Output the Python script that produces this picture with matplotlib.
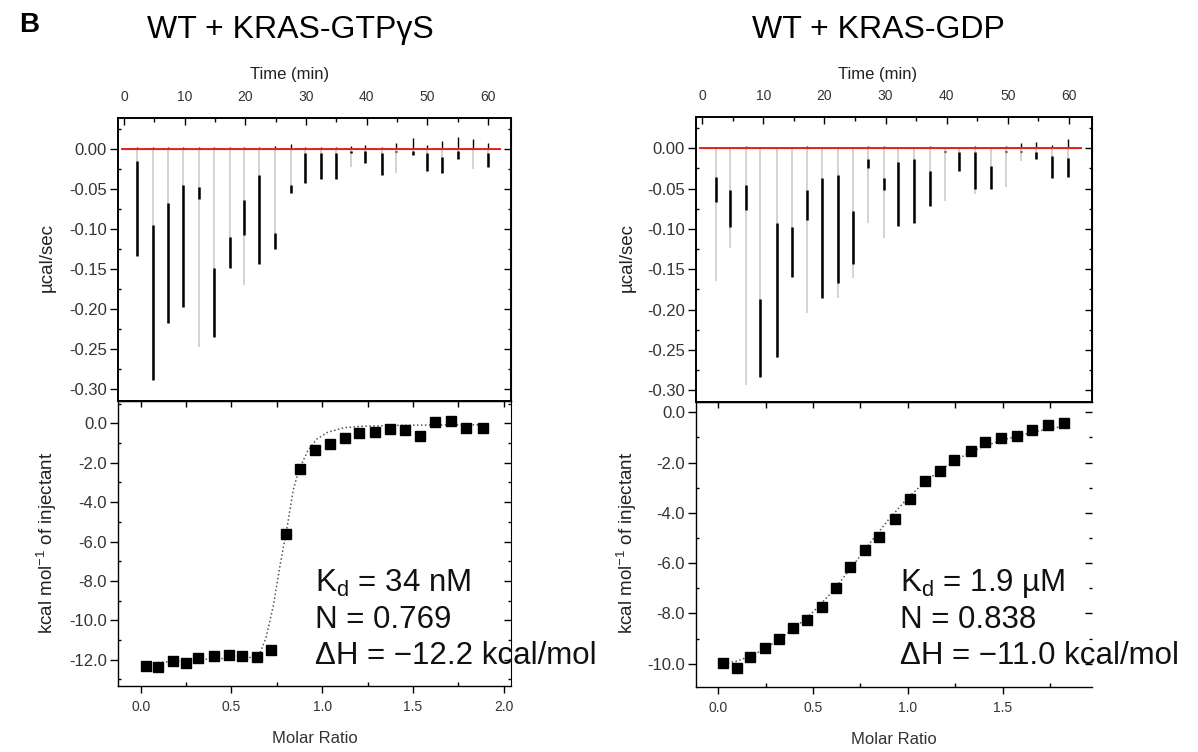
import matplotlib.pyplot as plt
from matplotlib.ticker import MultipleLocator, FormatStrFormatter

plt.rcParams['font.family'] = ['Liberation Sans', 'DejaVu Sans']
plt.rcParams['mathtext.fontset'] = 'custom'
plt.rcParams['mathtext.rm'] = 'Liberation Sans'
plt.rcParams['mathtext.it'] = 'Liberation Sans:italic'
plt.rcParams['axes.unicode_minus'] = False

# raw thermogram, KRAS-GTPyS (injection time, peak depth, dark part of the spike)
gtp_t = [2.2, 4.8, 7.3, 9.8, 12.3, 14.8, 17.5, 19.8, 22.3, 24.9, 27.5, 29.8,
         32.4, 34.9, 37.5, 39.8, 42.5, 44.9, 47.6, 49.9, 52.5, 55.1, 57.6, 60.0]
gtp_peak = [-0.134, -0.288, -0.217, -0.197, -0.247, -0.235, -0.149, -0.170,
            -0.143, -0.125, -0.055, -0.043, -0.037, -0.037, -0.022, -0.017,
            -0.032, -0.030, -0.008, -0.028, -0.030, -0.012, -0.025, -0.022]
gtp_dark_top = [-0.015, -0.095, -0.067, -0.045, -0.048, -0.149, -0.110, -0.063,
                -0.032, -0.105, -0.045, -0.005, -0.005, -0.005, -0.003, -0.003,
                -0.005, -0.003, -0.002, -0.005, -0.010, -0.003, -0.002, -0.005]
gtp_dark_bot = [-0.134, -0.288, -0.217, -0.197, -0.062, -0.235, -0.149, -0.107,
                -0.143, -0.125, -0.055, -0.043, -0.037, -0.037, -0.005, -0.017,
                -0.032, -0.004, -0.008, -0.028, -0.030, -0.012, -0.003, -0.022]
gtp_up = [0.002, 0.003, 0.003, 0.002, 0.003, 0.002, 0.003, 0.002, 0.002, 0.004,
          0.006, 0.003, 0.002, 0.003, 0.004, 0.005, 0.002, 0.008, 0.014, 0.005,
          0.010, 0.015, 0.012, 0.008]

# raw thermogram, KRAS-GDP
gdp_t = [2.2, 4.6, 7.1, 9.5, 12.2, 14.7, 17.1, 19.6, 22.2, 24.7, 27.2, 29.8,
         32.1, 34.7, 37.2, 39.7, 42.1, 44.7, 47.2, 49.7, 52.2, 54.6, 57.2, 59.8]
gdp_peak = [-0.165, -0.124, -0.293, -0.283, -0.260, -0.159, -0.204, -0.185,
            -0.185, -0.161, -0.093, -0.111, -0.096, -0.093, -0.072, -0.065,
            -0.028, -0.057, -0.050, -0.048, -0.016, -0.013, -0.037, -0.035]
gdp_dark_top = [-0.035, -0.052, -0.046, -0.187, -0.093, -0.098, -0.052, -0.037,
                -0.033, -0.078, -0.013, -0.037, -0.017, -0.013, -0.028, -0.003,
                -0.004, -0.004, -0.022, -0.003, -0.003, -0.004, -0.010, -0.012]
gdp_dark_bot = [-0.067, -0.098, -0.076, -0.283, -0.259, -0.159, -0.089, -0.185,
                -0.167, -0.143, -0.024, -0.052, -0.096, -0.093, -0.072, -0.005,
                -0.028, -0.050, -0.050, -0.005, -0.005, -0.013, -0.037, -0.035]
gdp_up = [0.002, 0.002, 0.003, 0.002, 0.002, 0.002, 0.003, 0.002, 0.002, 0.002,
          0.003, 0.003, 0.002, 0.002, 0.003, 0.002, 0.002, 0.003, 0.002, 0.003,
          0.006, 0.008, 0.004, 0.012]

# integrated heats
gtp_ratio = [0.028, 0.097, 0.178, 0.248, 0.317, 0.404, 0.486, 0.560, 0.642, 0.716,
             0.798, 0.877, 0.958, 1.042, 1.125, 1.205, 1.290, 1.372, 1.455, 1.538,
             1.624, 1.710, 1.795, 1.886]
gtp_heat = [-12.32, -12.37, -12.07, -12.17, -11.92, -11.81, -11.78, -11.81, -11.86,
            -11.53, -5.63, -2.34, -1.37, -1.07, -0.76, -0.51, -0.42, -0.29, -0.31,
            -0.64, 0.07, 0.12, -0.22, -0.22]
gtp_fit_x = [0.03, 0.30, 0.60, 0.66, 0.69, 0.73, 0.77, 0.81, 0.84, 0.87, 0.92, 0.97,
             1.03, 1.12, 1.21, 1.40, 1.60, 1.90]
gtp_fit_y = [-12.2, -12.0, -11.9, -11.6, -10.9, -9.3, -7.1, -5.1, -3.4, -2.4, -1.4,
             -0.8, -0.45, -0.22, -0.15, -0.10, -0.08, -0.07]

gdp_ratio = [0.028, 0.099, 0.170, 0.245, 0.320, 0.394, 0.469, 0.548, 0.622, 0.697,
             0.772, 0.850, 0.930, 1.010, 1.090, 1.170, 1.245, 1.330, 1.407, 1.490,
             1.572, 1.654, 1.740, 1.822]
gdp_heat = [-9.97, -10.17, -9.73, -9.36, -9.00, -8.58, -8.25, -7.75, -6.99, -6.15,
            -5.49, -4.96, -4.26, -3.43, -2.73, -2.35, -1.91, -1.55, -1.18, -1.02,
            -0.94, -0.72, -0.52, -0.41]
gdp_fit_x = [0.03, 0.10, 0.20, 0.30, 0.40, 0.50, 0.60, 0.70, 0.80, 0.90, 1.00, 1.10,
             1.20, 1.30, 1.40, 1.50, 1.60, 1.70, 1.82]
gdp_fit_y = [-10.0, -9.9, -9.6, -9.15, -8.6, -7.95, -7.15, -6.2, -5.2, -4.25, -3.4,
             -2.7, -2.15, -1.7, -1.35, -1.1, -0.9, -0.72, -0.55]

titles = ['WT + KRAS-GTP\u03b3S', 'WT + KRAS-GDP']
fit_text = [['K$_\\mathrm{d}$ = 34 nM', 'N = 0.769', '\u0394H = \u221212.2 kcal/mol'],
            ['K$_\\mathrm{d}$ = 1.9 \u00b5M', 'N = 0.838', '\u0394H = \u221211.0 kcal/mol']]

W, H = 1198, 752
fig = plt.figure(figsize=(W / 100, H / 100), dpi=100)


def px(x, y):
    return x / W, 1 - y / H


def style_y(ax, major, minor, fmt, right_spine=True):
    ax.yaxis.set_major_locator(MultipleLocator(major))
    ax.yaxis.set_minor_locator(MultipleLocator(minor))
    ax.yaxis.set_major_formatter(FormatStrFormatter(fmt))
    ax.tick_params(axis='y', which='major', direction='out', length=6, width=1,
                   labelsize=12, labelcolor='#333333', pad=2)
    ax.tick_params(axis='y', which='minor', direction='in', length=2.5, width=1)
    sec = ax.secondary_yaxis('right')
    sec.yaxis.set_major_locator(MultipleLocator(major))
    sec.yaxis.set_minor_locator(MultipleLocator(minor))
    sec.tick_params(which='both', direction='in', labelright=False)
    sec.tick_params(which='major', length=5, width=1)
    sec.tick_params(which='minor', length=2.5, width=1)
    sec.spines['right'].set_visible(right_spine)
    return sec


def raw_panel(rect, t, peak, dtop, dbot, up):
    ax = fig.add_axes(rect)
    ax.set_xlim(-1, 63.8)
    ax.set_ylim(-0.3146, 0.0388)
    ax.vlines(t, [0] * len(t), peak, color='#cccccc', lw=1.2)
    ax.vlines(t, dtop, dbot, color='black', lw=1.8)
    ax.vlines(t, [0] * len(t), up, color='black', lw=1.0)
    ax.plot([-0.3, 62], [0, 0], color='black', lw=0.8)
    ax.plot([-0.3, 62], [0, 0], color='#e8261c', lw=1.4)
    ax.xaxis.tick_top()
    ax.xaxis.set_major_locator(MultipleLocator(10))
    ax.xaxis.set_minor_locator(MultipleLocator(5))
    ax.tick_params(axis='x', which='both', direction='in', top=True, bottom=False,
                   labelsize=10, labelcolor='#333333', pad=10)
    ax.tick_params(axis='x', which='major', length=5, width=1)
    ax.tick_params(axis='x', which='minor', length=3, width=1)
    style_y(ax, 0.05, 0.025, '%.2f')
    for s in ax.spines.values():
        s.set_linewidth(1.4)
    return ax


def heat_panel(rect, xlim, ylim, ratio, heat, fx, fy, right_spine=True):
    ax = fig.add_axes(rect)
    ax.set_xlim(*xlim)
    ax.set_ylim(*ylim)
    ax.plot(fx, fy, color='#555555', lw=1.1, ls=(0, (1, 1.6)))
    ax.plot(ratio, heat, 's', color='black', ms=6.8)
    ax.xaxis.set_major_locator(MultipleLocator(0.5))
    ax.xaxis.set_minor_locator(MultipleLocator(0.25))
    ax.xaxis.set_major_formatter(FormatStrFormatter('%.1f'))
    ax.tick_params(axis='x', which='major', direction='out', length=5, width=1,
                   labelsize=10, labelcolor='#333333', pad=5)
    ax.tick_params(axis='x', which='minor', direction='in', length=3, width=1)
    sec = ax.secondary_xaxis('top')
    sec.xaxis.set_major_locator(MultipleLocator(0.5))
    sec.xaxis.set_minor_locator(MultipleLocator(0.25))
    sec.tick_params(which='both', direction='in', labeltop=False, length=4, width=1)
    style_y(ax, 2.0, 1.0, '%.1f', right_spine)
    ax.spines['right'].set_visible(False)
    for s in ax.spines.values():
        s.set_linewidth(1.0)
    ax.set_xlabel('Molar Ratio', fontsize=12, color='#333333', labelpad=12)
    return ax


raw_panel([0.0985, 0.4668, 0.328, 0.3763], gtp_t, gtp_peak, gtp_dark_top, gtp_dark_bot, gtp_up)
raw_panel([0.581, 0.4654, 0.3306, 0.379], gdp_t, gdp_peak, gdp_dark_top, gdp_dark_bot, gdp_up)
heat_panel([0.0985, 0.0878, 0.328, 0.379], (-0.125, 2.04), (-13.34, 1.14),
           gtp_ratio, gtp_heat, gtp_fit_x, gtp_fit_y)
heat_panel([0.581, 0.0864, 0.3306, 0.379], (-0.116, 1.97), (-10.93, 0.41),
           gdp_ratio, gdp_heat, gdp_fit_x, gdp_fit_y, right_spine=False)

fig.text(*px(29, 25), 'B', fontsize=20, fontweight='bold', ha='center', va='center')
for cx, title in zip([290, 878], titles):
    fig.text(*px(cx, 30), title, fontsize=23, ha='center', va='center')
    fig.text(*px(cx, 74), 'Time (min)', fontsize=12, ha='center', va='center',
             color='#222222')

for cy, lab in [(258, '\u00b5cal/sec'), (543, 'kcal mol$^{-1}$ of injectant')]:
    for lx in [47, 627]:
        fig.text(*px(lx, cy), lab, fontsize=13.5, rotation=90, ha='center',
                 va='center', color='#222222')

for lx, lines in zip([315, 900], fit_text):
    for ly, s in zip([583, 620, 656], lines):
        fig.text(*px(lx, ly), s, fontsize=22.5, ha='left', va='center',
                 color='#111111')

fig.savefig('out.png', dpi=100)
